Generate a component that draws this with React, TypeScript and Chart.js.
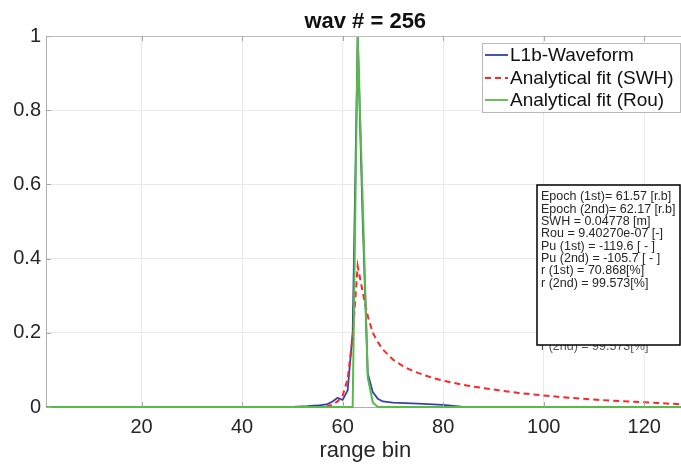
import React, { useEffect, useRef } from "react";
import { Chart, registerables } from "chart.js";

Chart.register(...registerables);

const TITLE = "wav # = 256";
const X_LABEL = "range bin";
const X_TICKS = [20, 40, 60, 80, 100, 120];
const Y_TICKS = [0, 0.2, 0.4, 0.6, 0.8, 1];

const L1B_LABEL = "L1b-Waveform";
const L1B_BINS = [1, 50, 53, 55, 57, 58, 59, 60, 61, 62, 63, 64, 65, 66, 67, 68, 70, 75, 80, 82, 84, 128];
const L1B_VALUES = [0, 0, 0.002, 0.004, 0.008, 0.015, 0.025, 0.019, 0.045, 0.2, 1.0, 0.5, 0.09, 0.04, 0.022, 0.015, 0.012, 0.009, 0.006, 0.003, 0, 0];

const SWH_LABEL = "Analytical fit (SWH)";
const SWH_BINS = [1, 56, 57, 58, 59, 60, 61, 62, 63, 64, 65, 66, 67, 68, 70, 72, 74, 76, 78, 80, 85, 90, 95, 100, 105, 110, 115, 120, 125, 128];
const SWH_VALUES = [0, 0, 0.002, 0.006, 0.015, 0.03, 0.075, 0.19, 0.38, 0.31, 0.245, 0.2, 0.175, 0.155, 0.128, 0.11, 0.097, 0.087, 0.078, 0.071, 0.057, 0.047, 0.038, 0.031, 0.025, 0.02, 0.016, 0.013, 0.009, 0.007];

const ROU_LABEL = "Analytical fit (Rou)";
const ROU_BINS = [1, 62, 63, 64, 65, 66, 67, 128];
const ROU_VALUES = [0, 0, 1.0, 0.55, 0.08, 0.012, 0, 0];

const INFO_LINES = [
  "Epoch (1st)= 61.57 [r.b]",
  "Epoch (2nd)= 62.17 [r.b]",
  "SWH = 0.04778 [m]",
  "Rou = 9.40270e-07 [-]",
  "Pu (1st) = -119.6 [ - ]",
  "Pu (2nd) = -105.7 [ - ]",
  "r (1st) = 70.868[%]",
  "r (2nd) = 99.573[%]",
];
const GHOST_LINE = "r (2nd) = 99.573[%]";

const FONT = "'Liberation Sans', Arial, Helvetica, sans-serif";
const TEXT = "#262626";
const BLUE = "#3342a8";
const RED = "#ff2626";
const GREEN = "#58bb45";

export default function App() {
  const ref = useRef<HTMLCanvasElement | null>(null);

  useEffect(() => {
    if (!ref.current) return;

    const overlay = {
      id: "overlay",
      afterDraw(chart: any) {
        const ctx = chart.ctx as CanvasRenderingContext2D;
        const ca = chart.chartArea;
        const xs = chart.scales.x;
        const ys = chart.scales.y;
        ctx.save();
        // top border
        ctx.strokeStyle = "#bdbdbd";
        ctx.lineWidth = 1;
        ctx.beginPath();
        ctx.moveTo(ca.left, ca.top + 0.5);
        ctx.lineTo(ca.right, ca.top + 0.5);
        ctx.stroke();
        // inward tick marks
        ctx.strokeStyle = "#a8a8a8";
        ctx.beginPath();
        for (const v of X_TICKS) {
          const px = Math.round(xs.getPixelForValue(v)) + 0.5;
          ctx.moveTo(px, ca.bottom);
          ctx.lineTo(px, ca.bottom - 5);
          ctx.moveTo(px, ca.top);
          ctx.lineTo(px, ca.top + 5);
        }
        for (const v of Y_TICKS) {
          const py = Math.round(ys.getPixelForValue(v)) + 0.5;
          ctx.moveTo(ca.left, py);
          ctx.lineTo(ca.left + 5, py);
        }
        ctx.stroke();

        // title
        ctx.fillStyle = "#111";
        ctx.font = `bold 22px ${FONT}`;
        ctx.textAlign = "center";
        ctx.textBaseline = "middle";
        ctx.fillText(TITLE, (ca.left + ca.right) / 2, 22);

        // legend
        const lx = 482, ly = 43, lw = 198, lh = 69;
        ctx.fillStyle = "#fff";
        ctx.fillRect(lx, ly, lw, lh);
        ctx.strokeStyle = "#b8b8b8";
        ctx.lineWidth = 1;
        ctx.strokeRect(lx + 0.5, ly + 0.5, lw, lh);
        const ds = chart.data.datasets;
        const rowY = [55, 78, 100];
        ctx.font = `19px ${FONT}`;
        ctx.textAlign = "left";
        ctx.textBaseline = "middle";
        ds.forEach((d: any, i: number) => {
          ctx.strokeStyle = d.borderColor;
          ctx.lineWidth = 1.8;
          ctx.setLineDash(d.borderDash || []);
          ctx.beginPath();
          ctx.moveTo(485, rowY[i]);
          ctx.lineTo(508, rowY[i]);
          ctx.stroke();
          ctx.setLineDash([]);
          ctx.fillStyle = "#111";
          ctx.fillText(d.label, 510, rowY[i] + 1);
        });

        // ghost text under info box
        ctx.font = `12.5px ${FONT}`;
        ctx.fillStyle = "#555";
        ctx.fillText(GHOST_LINE, 541, 347);

        // info box
        const bx = 537, by = 185, bw = 143, bh = 160;
        ctx.fillStyle = "#fff";
        ctx.fillRect(bx, by, bw, bh);
        ctx.strokeStyle = "#000";
        ctx.lineWidth = 1.5;
        ctx.strokeRect(bx, by, bw, bh);
        ctx.fillStyle = TEXT;
        ctx.font = `12.5px ${FONT}`;
        INFO_LINES.forEach((t, i) => {
          ctx.fillText(t, 541, 197 + i * 12.3);
        });
        ctx.restore();
      },
    };

    const chart = new Chart(ref.current, {
      type: "line",
      data: {
        datasets: [
          {
            label: L1B_LABEL,
            data: L1B_BINS.map((x, i) => ({ x, y: L1B_VALUES[i] })),
            borderColor: BLUE,
            borderWidth: 1.8,
            pointRadius: 0,
            tension: 0,
            fill: false,
            order: 2,
            clip: false,
          },
          {
            label: SWH_LABEL,
            data: SWH_BINS.map((x, i) => ({ x, y: SWH_VALUES[i] })),
            borderColor: RED,
            borderWidth: 2,
            borderDash: [6, 4],
            pointRadius: 0,
            tension: 0,
            fill: false,
            order: 1,
            clip: false,
          },
          {
            label: ROU_LABEL,
            data: ROU_BINS.map((x, i) => ({ x, y: ROU_VALUES[i] })),
            borderColor: GREEN,
            borderWidth: 2,
            pointRadius: 0,
            tension: 0,
            fill: false,
            order: 0,
            clip: false,
          },
        ] as any,
      },
      options: {
        animation: false,
        responsive: false,
        maintainAspectRatio: false,
        layout: { padding: { top: 36, right: 1.5, left: 0, bottom: 0 } },
        plugins: {
          legend: { display: false },
          tooltip: { enabled: false },
          title: { display: false },
        },
        scales: {
          x: {
            type: "linear",
            min: 1,
            max: 128,
            afterBuildTicks: (s: any) => {
              s.ticks = X_TICKS.map((v) => ({ value: v }));
            },
            afterFit: (s: any) => {
              s.height = 57;
            },
            ticks: {
              font: { family: FONT, size: 20 },
              color: TEXT,
              padding: 8,
              maxRotation: 0,
              autoSkip: false,
            },
            grid: { color: "#e9e9e9", drawTicks: false },
            border: { display: true, color: "#b0b0b0" },
            title: {
              display: true,
              text: X_LABEL,
              font: { family: FONT, size: 22 },
              color: TEXT,
              padding: { top: 0, bottom: 0 },
            },
          },
          y: {
            type: "linear",
            min: 0,
            max: 1,
            afterBuildTicks: (s: any) => {
              s.ticks = Y_TICKS.map((v) => ({ value: v }));
            },
            afterFit: (s: any) => {
              s.width = 46;
            },
            ticks: {
              font: { family: FONT, size: 20 },
              color: TEXT,
              padding: 5,
              callback: (v: any) => `${v}`,
            },
            grid: { color: "#e9e9e9", drawTicks: false },
            border: { display: true, color: "#b0b0b0" },
          },
        },
      },
      plugins: [overlay],
    } as any);

    return () => chart.destroy();
  }, []);

  return (
    <div
      style={{
        position: "absolute",
        left: 0,
        top: 0,
        width: 681,
        height: 464,
        overflow: "hidden",
        background: "#fff",
      }}
    >
      <canvas ref={ref} width={686} height={464} style={{ display: "block" }} />
    </div>
  );
}
